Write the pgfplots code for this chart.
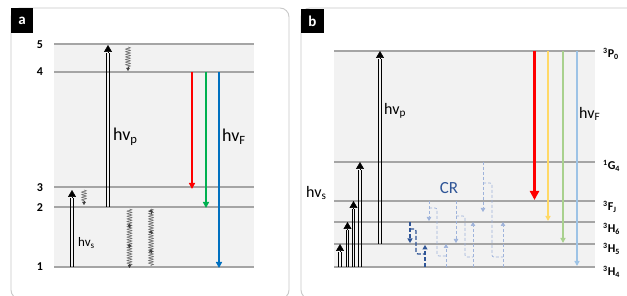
\documentclass[border=0pt]{standalone}
\usepackage{pgfplots}
\pgfplotsset{compat=1.18}
\usepackage{fontspec}
\setmainfont{Carlito}
\usetikzlibrary{arrows.meta,decorations.pathmorphing}
\definecolor{lvl}{HTML}{A5A5A5}
\definecolor{shade}{HTML}{F2F2F2}
\definecolor{frm}{HTML}{C9C9C9}
\definecolor{emred}{HTML}{FF0000}
\definecolor{emgreen}{HTML}{00B050}
\definecolor{emblue}{HTML}{0070C0}
\definecolor{emyel}{HTML}{FFD966}
\definecolor{emlgreen}{HTML}{A9D18E}
\definecolor{emlblue}{HTML}{9DC3E6}
\definecolor{crdark}{HTML}{2F5597}
\definecolor{crlight}{HTML}{9EB3DB}
\definecolor{wavy}{HTML}{6F6F6F}
\definecolor{wavytip}{HTML}{404040}
% double-line arrow: xleft, xright, xmid, ybottom, ybase, ytip
\newcommand{\dbl}[6]{%
  \addplot[black, line width=0.9pt] coordinates {(#1,#4)(#1,#5)};
  \addplot[black, line width=0.9pt] coordinates {(#2,#4)(#2,#5)};
  \addplot[black, line width=0.5pt, -{Triangle[width=8pt,length=7pt]}] coordinates {(#3,#5)(#3,#6)};
}
% wavy line: x, ytop, ybottom
\newcommand{\wav}[3]{%
  \addplot[wavy, line width=0.6pt, decorate, decoration={snake, amplitude=2.4pt, segment length=2.6pt}] coordinates {(#1,#2)(#1,#3)};
}
% tiny arrowhead: x, yfrom, yto
\newcommand{\tip}[3]{%
  \addplot[wavytip, line width=0.4pt, -{Triangle[width=3.5pt,length=3pt]}] coordinates {(#1,#2)(#1,#3)};
}
\begin{document}
\begin{tikzpicture}
\begin{axis}[x=1pt, y=1pt, xmin=0, xmax=627, ymin=0, ymax=296, y dir=reverse,
  hide axis, clip=true]
% background
\addplot[fill=white, draw=none] coordinates {(0,0)(627,0)(627,296)(0,296)} -- cycle;
% frames
\addplot[draw=frm, line width=0.9pt, rounded corners=9pt] coordinates {(11,8)(289,8)(289,299)(11,299)} -- cycle;
\addplot[draw=frm, line width=0.9pt, rounded corners=9pt] coordinates {(301,8)(640,8)(640,299)(301,299)} -- cycle;
% label boxes
\addplot[fill=black, draw=none] coordinates {(11,8)(33,8)(33,33)(11,33)} -- cycle;
\addplot[fill=black, draw=none] coordinates {(301,9)(324,9)(324,33)(301,33)} -- cycle;
% shaded regions
\addplot[fill=shade, draw=none] coordinates {(54,44)(254,44)(254,267)(54,267)} -- cycle;
\addplot[fill=shade, draw=none] coordinates {(334,51)(595,51)(595,267)(334,267)} -- cycle;
% ===== panel a levels
\addplot[lvl, line width=2pt] coordinates {(54,44.3)(254,44.3)};
\addplot[lvl, line width=2pt] coordinates {(54,71.7)(254,71.7)};
\addplot[lvl, line width=2pt] coordinates {(54,187.3)(254,187.3)};
\addplot[lvl, line width=2pt] coordinates {(54,207.3)(254,207.3)};
\addplot[lvl, line width=2pt] coordinates {(54,266.7)(254,266.7)};
% panel a excitation
\dbl{70.8}{73.2}{72}{267}{198}{190}
\dbl{106.8}{109.2}{108}{207}{53}{45}
% panel a non-radiative
\wav{128}{47}{68}
\tip{128}{67}{71}
\wav{84}{190}{202}
\tip{84}{201}{205}
\wav{129.5}{209}{266}
\tip{129.5}{224}{228}
\tip{129.5}{244}{248}
\tip{129.5}{264}{268}
\wav{151}{209}{266}
\tip{151}{214}{209}
\tip{151}{234}{230}
\tip{151}{253}{249}
% panel a emission
\addplot[color=emred, line width=1.7pt, -{Triangle[width=6pt,length=6pt]}] coordinates {(192,72)(192,189)};
\addplot[color=emgreen, line width=1.7pt, -{Triangle[width=6pt,length=6pt]}] coordinates {(206,72)(206,208)};
\addplot[color=emblue, line width=1.7pt, -{Triangle[width=6pt,length=6pt]}] coordinates {(219,72)(219,268)};
% ===== panel b levels
\addplot[lvl, line width=2pt] coordinates {(334,51)(595,51)};
\addplot[lvl, line width=2pt] coordinates {(334,162)(595,162)};
\addplot[lvl, line width=2pt] coordinates {(334,201)(595,201)};
\addplot[lvl, line width=2pt] coordinates {(334,222)(595,222)};
\addplot[lvl, line width=2pt] coordinates {(334,244)(595,244)};
\addplot[lvl, line width=2pt] coordinates {(334,267)(595,267)};
% panel b excitation
\dbl{338.8}{341.2}{340}{267}{252}{244}
\dbl{346.3}{348.7}{347.5}{267}{230}{222}
\dbl{352.3}{354.7}{353.5}{267}{209}{201}
\dbl{358.8}{361.2}{360}{267}{170}{162}
\dbl{378.8}{381.2}{380}{244}{59}{51}
% panel b emission
\addplot[color=emred, line width=3.2pt, -{Triangle[width=9pt,length=9pt]}] coordinates {(534.5,51)(534.5,200)};
\addplot[color=emyel, line width=1.4pt, -{Triangle[width=5pt,length=5pt]}] coordinates {(548,51)(548,221)};
\addplot[color=emlgreen, line width=1.4pt, -{Triangle[width=5pt,length=5pt]}] coordinates {(563,51)(563,243)};
\addplot[color=emlblue, line width=1.4pt, -{Triangle[width=5pt,length=5pt]}] coordinates {(577,51)(577,266)};
% cross relaxation: dark pair
\addplot[crdark, line width=1.2pt, dash pattern=on 4pt off 2pt, -{Triangle[width=5pt,length=4.5pt]}] coordinates {(410,222)(410,243)};
\addplot[crdark, line width=1.2pt, dash pattern=on 4pt off 2pt, rounded corners=2pt] coordinates {(410,229)(416,229)(416,254)(424,254)};
\addplot[crdark, line width=1.2pt, dash pattern=on 4pt off 2pt, -{Triangle[width=5pt,length=4.5pt]}] coordinates {(425,267)(425,245)};
% light pairs
\addplot[crlight, line width=0.7pt, dash pattern=on 3pt off 2pt, -{Triangle[width=4.5pt,length=4pt]}] coordinates {(429,201)(429,221)};
\addplot[crlight, line width=0.7pt, dash pattern=on 3pt off 2pt, rounded corners=2pt] coordinates {(429,208)(437,208)(437,256)(446,256)};
\addplot[crlight, line width=0.7pt, dash pattern=on 3pt off 2pt, -{Triangle[width=4.5pt,length=4pt]}] coordinates {(446,267)(446,244)};
\addplot[crlight, line width=0.7pt, dash pattern=on 3pt off 2pt, -{Triangle[width=4.5pt,length=4pt]}] coordinates {(456,201)(456,243)};
\addplot[crlight, line width=0.7pt, dash pattern=on 3pt off 2pt, rounded corners=2pt] coordinates {(456,216)(465,216)(465,257)(473,257)};
\addplot[crlight, line width=0.7pt, dash pattern=on 3pt off 2pt, -{Triangle[width=4.5pt,length=4pt]}] coordinates {(473,267)(473,222)};
\addplot[crlight, line width=0.7pt, dash pattern=on 3pt off 2pt, -{Triangle[width=4.5pt,length=4pt]}] coordinates {(483,162)(483,212)};
\addplot[crlight, line width=0.7pt, dash pattern=on 3pt off 2pt, rounded corners=2pt] coordinates {(483,183)(492,183)(492,257)(503,257)};
\addplot[crlight, line width=0.7pt, dash pattern=on 3pt off 2pt, -{Triangle[width=4.5pt,length=4pt]}] coordinates {(503,267)(503,222)};
% ===== texts
\node[white, font=\fontsize{15}{15}\selectfont\bfseries] at (axis cs:22,20.5) {a};
\node[white, font=\fontsize{15}{15}\selectfont\bfseries] at (axis cs:312.5,21) {b};
\node[font=\fontsize{12}{12}\selectfont\bfseries] at (axis cs:40,44.3) {5};
\node[font=\fontsize{12}{12}\selectfont\bfseries] at (axis cs:40,71.7) {4};
\node[font=\fontsize{12}{12}\selectfont\bfseries] at (axis cs:40,187.3) {3};
\node[font=\fontsize{12}{12}\selectfont\bfseries] at (axis cs:40,207.3) {2};
\node[font=\fontsize{12}{12}\selectfont\bfseries] at (axis cs:40,266.7) {1};
\node[anchor=west, font=\fontsize{18}{18}\selectfont, inner sep=0pt] at (axis cs:113,137) {hv\textsubscript{p}};
\node[anchor=west, font=\fontsize{18}{18}\selectfont, inner sep=0pt] at (axis cs:222,137) {hv\textsubscript{F}};
\node[anchor=west, font=\fontsize{13}{13}\selectfont, inner sep=0pt] at (axis cs:78,243) {hv\textsubscript{s}};
\node[anchor=west, font=\fontsize{16}{16}\selectfont, inner sep=0pt] at (axis cs:306,193) {hv\textsubscript{s}};
\node[anchor=west, font=\fontsize{16}{16}\selectfont, inner sep=0pt] at (axis cs:384,111) {hv\textsubscript{p}};
\node[anchor=west, font=\fontsize{16}{16}\selectfont, inner sep=0pt] at (axis cs:579,114) {hv\textsubscript{F}};
\node[crdark, font=\fontsize{17}{17}\selectfont, inner sep=0pt] at (axis cs:449,188) {CR};
\node[anchor=west, font=\fontsize{12}{12}\selectfont\bfseries, inner sep=0pt] at (axis cs:603,54) {\textsuperscript{3}P\textsubscript{0}};
\node[anchor=west, font=\fontsize{12}{12}\selectfont\bfseries, inner sep=0pt] at (axis cs:603,166) {\textsuperscript{1}G\textsubscript{4}};
\node[anchor=west, font=\fontsize{12}{12}\selectfont\bfseries, inner sep=0pt] at (axis cs:603,207) {\textsuperscript{3}F\textsubscript{J}};
\node[anchor=west, font=\fontsize{12}{12}\selectfont\bfseries, inner sep=0pt] at (axis cs:603,229) {\textsuperscript{3}H\textsubscript{6}};
\node[anchor=west, font=\fontsize{12}{12}\selectfont\bfseries, inner sep=0pt] at (axis cs:603,249) {\textsuperscript{3}H\textsubscript{5}};
\node[anchor=west, font=\fontsize{12}{12}\selectfont\bfseries, inner sep=0pt] at (axis cs:603,272) {\textsuperscript{3}H\textsubscript{4}};
\end{axis}
\end{tikzpicture}
\end{document}
